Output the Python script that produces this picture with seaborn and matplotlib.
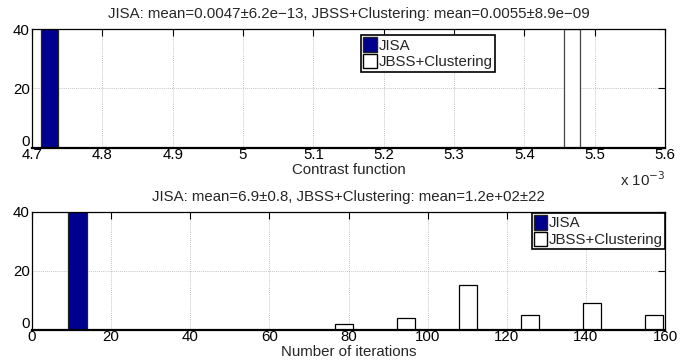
import numpy as np
import pandas as pd
import matplotlib
matplotlib.use("Agg")
import matplotlib.pyplot as plt
import matplotlib.transforms as mtransforms
import seaborn as sns
from matplotlib.patches import Patch
from matplotlib.ticker import FuncFormatter

# ---- data ----
series_names = ["JISA", "JBSS+Clustering"]

# top panel: contrast function
contrast_jisa_centers = [0.004725]
contrast_jisa_counts = [40]
contrast_jbss_centers = [0.0054676]
contrast_jbss_counts = [40]
contrast_title = "JISA: mean=0.0047\u00b16.2e\u221213, JBSS+Clustering: mean=0.0055\u00b18.9e\u221209"
contrast_xlabel = "Contrast function"

# bottom panel: number of iterations
iter_jisa_centers = [11.5]
iter_jisa_counts = [40]
iter_jbss_centers = [78.8, 94.5, 110.2, 125.9, 141.6, 157.3]
iter_jbss_counts = [2, 4, 15, 5, 9, 5]
iter_title = "JISA: mean=6.9\u00b10.8, JBSS+Clustering: mean=1.2e+02\u00b122"
iter_xlabel = "Number of iterations"

contrast_xticks = [4.7e-3, 4.8e-3, 4.9e-3, 5.0e-3, 5.1e-3, 5.2e-3, 5.3e-3, 5.4e-3, 5.5e-3, 5.6e-3]
iter_xticks = [0, 20, 40, 60, 80, 100, 120, 140, 160]
yticks = [0, 20, 40]

# ---- style ----
sns.set_style("white")
plt.rcParams["font.family"] = ["Liberation Sans", "DejaVu Sans"]
FS = 10.8
NAVY = "#00008f"


def edges_for(centers, width):
    e = []
    for c in centers:
        e += [c - width / 2, c + width / 2]
    return e


def draw_hist(ax, centers, counts, width, color, edge):
    sns.histplot(x=centers, weights=counts, bins=edges_for(centers, width), ax=ax,
                 color=color, edgecolor=edge, linewidth=0.9, alpha=1, legend=False)


fig = plt.figure(figsize=(6.99, 3.64), dpi=100)
ax1 = fig.add_axes([32 / 699, 1 - 147.7 / 364, 633 / 699, 118.4 / 364])
ax2 = fig.add_axes([32 / 699, 1 - 329.7 / 364, 633 / 699, 118.0 / 364])

draw_hist(ax1, contrast_jisa_centers, contrast_jisa_counts, 0.0000242, NAVY, "#222222")
draw_hist(ax1, contrast_jbss_centers, contrast_jbss_counts, 0.0000238, "white", "#444444")
draw_hist(ax2, iter_jisa_centers, iter_jisa_counts, 4.6, NAVY, "#222222")
draw_hist(ax2, iter_jbss_centers, iter_jbss_counts, 4.5, "white", "black")

for ax, xt, xl, title, xlabel in [
    (ax1, contrast_xticks, (4.7e-3, 5.6e-3), contrast_title, contrast_xlabel),
    (ax2, iter_xticks, (0, 160), iter_title, iter_xlabel),
]:
    ax.set_xlim(*xl)
    ax.set_ylim(0, 40)
    ax.set_xticks(xt)
    ax.set_yticks(yticks)
    ax.grid(True, color="#b0b0b0", linestyle=(0, (1, 1.5)), linewidth=0.6)
    ax.set_axisbelow(True)
    ax.tick_params(direction="in", length=5, width=0.8, top=True, right=True,
                   labelsize=FS, colors="black")
    ax.tick_params(axis="x", pad=0.5)
    ax.tick_params(axis="y", pad=1.5)
    for s in ax.spines.values():
        s.set_visible(True)
        s.set_color("black")
        s.set_linewidth(0.9)
    ax.spines["bottom"].set_linewidth(1.6)
    ax.set_ylabel("")
    ax.set_title(title, fontsize=FS, pad=8)
    ax.set_xlabel(xlabel, fontsize=FS, labelpad=0.5)

ax1.xaxis.set_major_formatter(FuncFormatter(lambda v, p: "%g" % round(v * 1e3, 3)))
ax1.text(1.0, -0.19, r"x 10$^{-3}$", transform=ax1.transAxes, ha="right", va="top", fontsize=FS)

# nudge the y "0" labels up slightly so they sit above the x tick labels
for ax in (ax1, ax2):
    lbl = ax.get_yticklabels()[0]
    lbl.set_transform(lbl.get_transform() +
                      mtransforms.ScaledTranslation(0, 5 / 72, fig.dpi_scale_trans))

handles = [Patch(facecolor=NAVY, edgecolor="#222222", label=series_names[0]),
           Patch(facecolor="white", edgecolor="black", label=series_names[1])]
leg_kw = dict(fontsize=FS, frameon=True, fancybox=False, edgecolor="black", framealpha=1,
              handlelength=0.9, handleheight=1.1, handletextpad=0.1, borderpad=0.15,
              labelspacing=0.1, borderaxespad=0)
l1 = ax1.legend(handles=handles, loc="upper left", bbox_to_anchor=(0.52, 0.952), **leg_kw)
l2 = ax2.legend(handles=handles, loc="upper right", bbox_to_anchor=(1.0, 0.99), **leg_kw)
for l in (l1, l2):
    l.get_frame().set_linewidth(1.2)

fig.savefig("out.png", dpi=100)
